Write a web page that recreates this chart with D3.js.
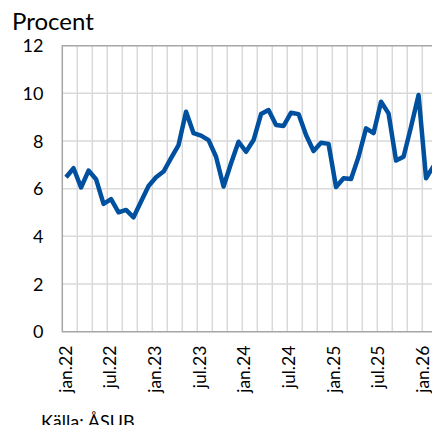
<!DOCTYPE html>
<html>
<head>
<meta charset="utf-8">
<script src="https://cdn.jsdelivr.net/npm/d3@7"></script>
<style>
  body { margin: 0; background: #fff; }
  text { font-family: Lato, "Open Sans", sans-serif; fill: #000; }
</style>
</head>
<body>
<div id="chart"></div>
<script>
// monthly categories jan.22 - feb.26
const months = [
  "jan.22","feb.22","mar.22","apr.22","maj.22","jun.22","jul.22","aug.22","sep.22","okt.22","nov.22","dec.22",
  "jan.23","feb.23","mar.23","apr.23","maj.23","jun.23","jul.23","aug.23","sep.23","okt.23","nov.23","dec.23",
  "jan.24","feb.24","mar.24","apr.24","maj.24","jun.24","jul.24","aug.24","sep.24","okt.24","nov.24","dec.24",
  "jan.25","feb.25","mar.25","apr.25","maj.25","jun.25","jul.25","aug.25","sep.25","okt.25","nov.25","dec.25",
  "jan.26","feb.26"
];
const values = [
  6.48, 6.86, 6.05, 6.76, 6.40, 5.36, 5.56, 5.01, 5.11, 4.80, 5.46, 6.11,
  6.48, 6.72, 7.28, 7.83, 9.23, 8.33, 8.23, 8.04, 7.34, 6.09, 7.07, 7.97,
  7.55, 8.04, 9.13, 9.30, 8.67, 8.63, 9.19, 9.13, 8.25, 7.58, 7.93, 7.88,
  6.07, 6.44, 6.41, 7.34, 8.53, 8.33, 9.65, 9.16, 7.18, 7.34, 8.60, 9.93,
  6.44, 6.95
];
const xTickLabels = ["jan.22","jul.22","jan.23","jul.23","jan.24","jul.24","jan.25","jul.25","jan.26"];
const yTicks = [0, 2, 4, 6, 8, 10, 12];

const width = 432, height = 425;
const plotLeft = 62.3, plotTop = 45.7, plotBottom = 331.7;
const plotW = 375; // runs past the right edge like the original

const svg = d3.select("#chart").append("svg")
    .attr("width", width)
    .attr("height", height);

const x = d3.scaleBand().domain(months).range([plotLeft, plotLeft + plotW]);
const y = d3.scaleLinear().domain([0, 12]).range([plotBottom, plotTop]);

// vertical gridlines every second month
svg.append("g").selectAll("line")
    .data(months.filter((d, i) => i % 2 === 0 && i > 0))
    .enter().append("line")
    .attr("x1", d => x(d)).attr("x2", d => x(d))
    .attr("y1", plotTop).attr("y2", plotBottom)
    .attr("stroke", "#d9d9d9")
    .attr("stroke-width", 1.5);

// horizontal gridlines
svg.append("g").selectAll("line")
    .data(yTicks.filter(d => d > 0 && d < 12))
    .enter().append("line")
    .attr("x1", plotLeft).attr("x2", plotLeft + plotW)
    .attr("y1", d => y(d)).attr("y2", d => y(d))
    .attr("stroke", "#d9d9d9")
    .attr("stroke-width", 1.5);

// plot border (top, left, bottom)
svg.append("path")
    .attr("d", `M${plotLeft + plotW},${y(12)}H${plotLeft}V${y(0)}H${plotLeft + plotW}`)
    .attr("fill", "none")
    .attr("stroke", "#a6a6a6")
    .attr("stroke-width", 1.5);

// y labels
svg.append("g").selectAll("text")
    .data(yTicks)
    .enter().append("text")
    .attr("x", 43.5)
    .attr("y", d => y(d))
    .attr("dy", "0.36em")
    .attr("text-anchor", "end")
    .style("font-size", "18px")
    .text(d => d);

// x labels, rotated
svg.append("g").selectAll("text")
    .data(xTickLabels)
    .enter().append("text")
    .attr("transform", (d, i) => `translate(${x(d) + x.bandwidth() / 2 + 5.5 - i * 0.3},${plotBottom + 14}) rotate(-90)`)
    .attr("text-anchor", "end")
    .style("font-size", "17.5px")
    .text(d => d);

// line
const line = d3.line()
    .x((d, i) => x(months[i]) + x.bandwidth() / 2)
    .y(d => y(d));

svg.append("path")
    .datum(values)
    .attr("d", line)
    .attr("fill", "none")
    .attr("stroke", "#0050a0")
    .attr("stroke-width", 4.5)
    .attr("stroke-linejoin", "round");

// title and source
svg.append("text")
    .attr("x", 12)
    .attr("y", 30)
    .style("font-size", "24px")
    .text("Procent");

svg.append("text")
    .attr("x", 41)
    .attr("y", 428)
    .style("font-size", "18px")
    .text("Källa: ÅSUB");
</script>
</body>
</html>
